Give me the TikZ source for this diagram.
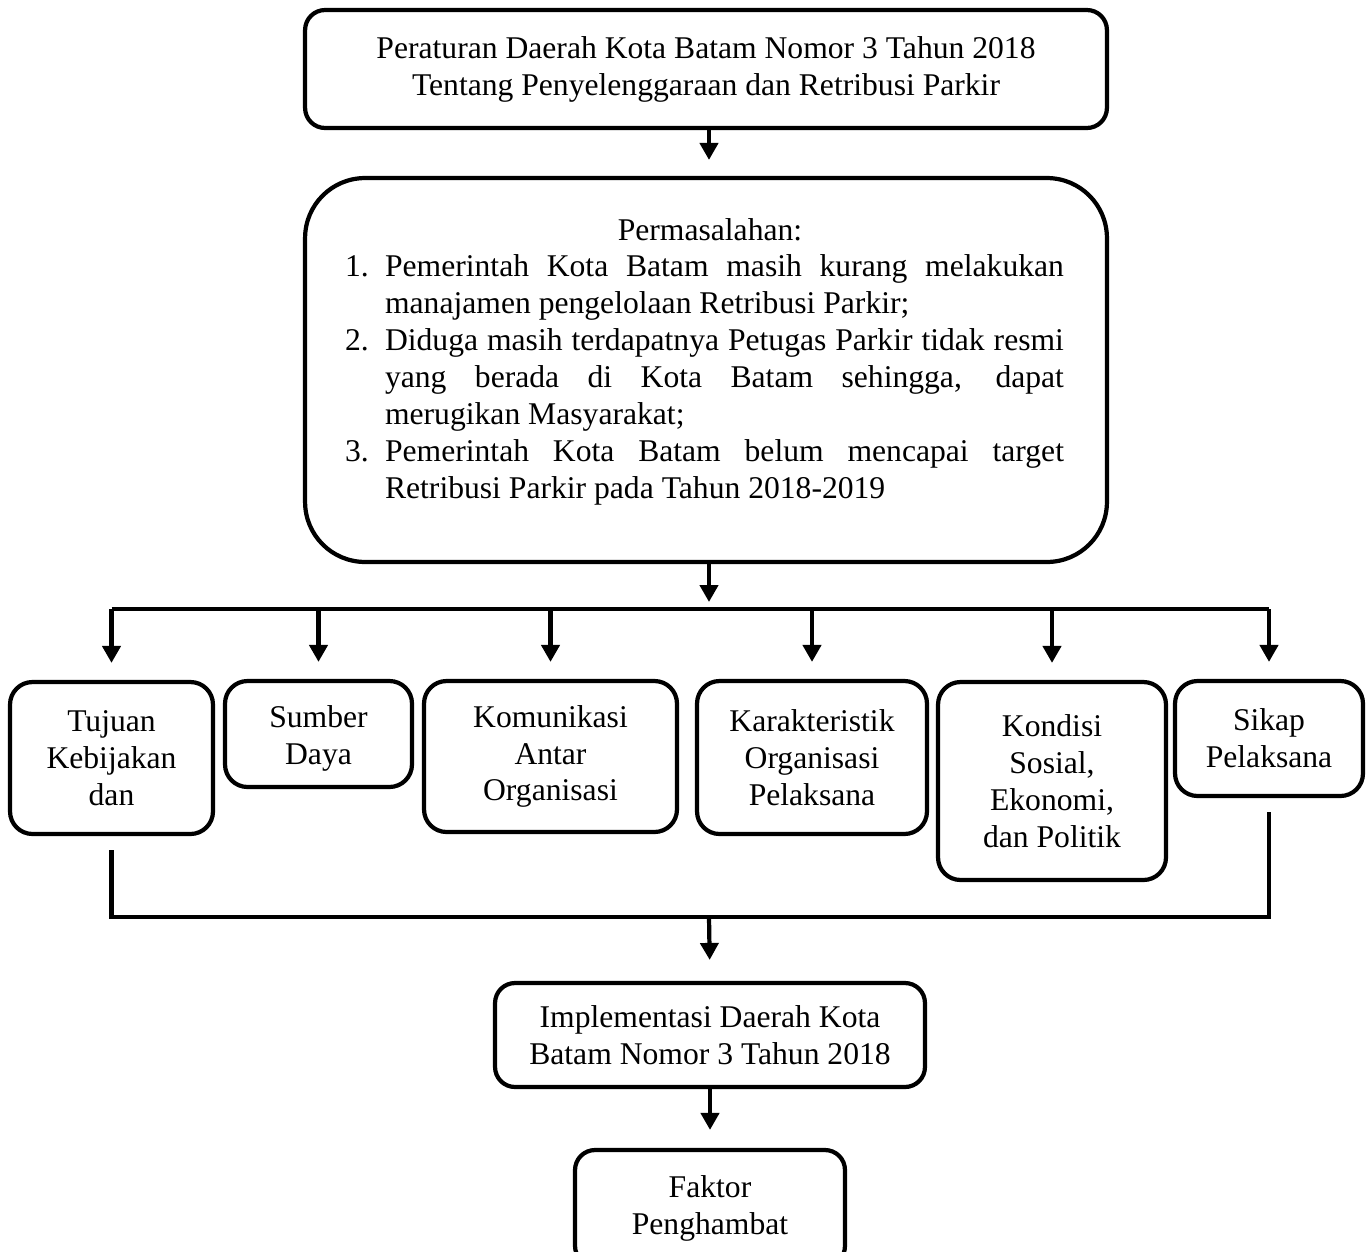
\documentclass[tikz,border=0pt]{standalone}
\usepackage{fontspec}
\setmainfont{Liberation Serif}
\usetikzlibrary{arrows.meta}

\begin{document}
\begin{tikzpicture}[x=0.02cm,y=-0.02cm,
	kotak/.style={draw, line width=2.4pt, rounded corners=0.45cm, align=center, inner sep=0pt,
		font=\fontsize{18}{21}\selectfont},
	teks/.style={inner sep=0pt, align=center, font=\fontsize{18}{21}\selectfont},
	garis/.style={line width=2.4pt},
	panah/.style={line width=2.4pt, -{Triangle[width=0.36cm,length=0.34cm]}}]
	\useasboundingbox (0,0) rectangle (1371,1251);

	\node[kotak, rounded corners=0.4cm, minimum width=16.04cm, minimum height=2.36cm] (atas) at (706,69) {Peraturan Daerah Kota Batam Nomor 3 Tahun 2018\\Tentang Penyelenggaraan dan Retribusi Parkir};
	\node[kotak, rounded corners=1.2cm, minimum width=16.04cm, minimum height=7.68cm] (masalah) at (706,370) {};
	\node[teks] (judul) at (710,230) {Permasalahan:};
	\node[teks] (daftar) at (704.5,380) {\parbox{14.38cm}{%
		\noindent\hangindent=0.8cm\hangafter=1\makebox[0.8cm][l]{1.}Pemerintah Kota Batam masih kurang melakukan\linebreak manajamen pengelolaan Retribusi Parkir;\par
		\noindent\hangindent=0.8cm\hangafter=1\makebox[0.8cm][l]{2.}Diduga masih terdapatnya Petugas Parkir tidak resmi\linebreak yang berada di Kota Batam sehingga, dapat\linebreak merugikan Masyarakat;\par
		\noindent\hangindent=0.8cm\hangafter=1\makebox[0.8cm][l]{3.}Pemerintah Kota Batam belum mencapai target\linebreak Retribusi Parkir pada Tahun 2018-2019}};

	\coordinate (bus) at (709,609);
	\node[kotak, minimum width=4.06cm, minimum height=3.04cm] (t1) at (111.5,758) {Tujuan\\Kebijakan\\dan};
	\node[kotak, minimum width=3.74cm, minimum height=2.12cm] (t2) at (318.5,734) {\rule{0pt}{18pt}Sumber\\Daya};
	\node[kotak, minimum width=5.06cm, minimum height=3.02cm] (t3) at (550.5,756.5) {Komunikasi\\Antar\\Organisasi};
	\node[kotak, minimum width=4.6cm, minimum height=3.06cm] (t4) at (812,757.5) {Karakteristik\\Organisasi\\Pelaksana};
	\node[kotak, minimum width=4.56cm, minimum height=3.96cm] (t5) at (1052,781) {Kondisi\\Sosial,\\Ekonomi,\\dan Politik};
	\node[kotak, minimum width=3.76cm, minimum height=2.3cm] (t6) at (1269,738.5) {Sikap\\Pelaksana};

	\coordinate (bus2) at (709,917);
	\node[kotak, rounded corners=0.4cm, minimum width=8.6cm, minimum height=2.08cm] (impl) at (710,1035) {Implementasi Daerah Kota\\Batam Nomor 3 Tahun 2018};
	\node[kotak, rounded corners=0.4cm, minimum width=5.4cm, minimum height=2.32cm] (faktor) at (710,1208) {Faktor\\Penghambat};

	\draw[panah, shorten >=0.32cm] (atas.south -| bus) -- (masalah.north -| bus);
	\draw[panah, shorten >=0.14cm] (masalah.south -| bus) -- (bus);
	\draw[garis] (t1.north |- bus) -- (t6.north |- bus);
	\foreach \k in {t1,t2,t3,t4,t5,t6}
		\draw[panah, shorten >=0.34cm] (\k.north |- bus) -- (\k.north);
	\draw[garis, shorten <=0.28cm, shorten >=0.28cm] (t1.south) |- (bus2) -| (t6.south);
	\draw[panah, shorten >=0.42cm] (bus2) -- (impl.north);
	\draw[panah, shorten >=0.36cm] (impl.south) -- (faktor.north);
\end{tikzpicture}
\end{document}
